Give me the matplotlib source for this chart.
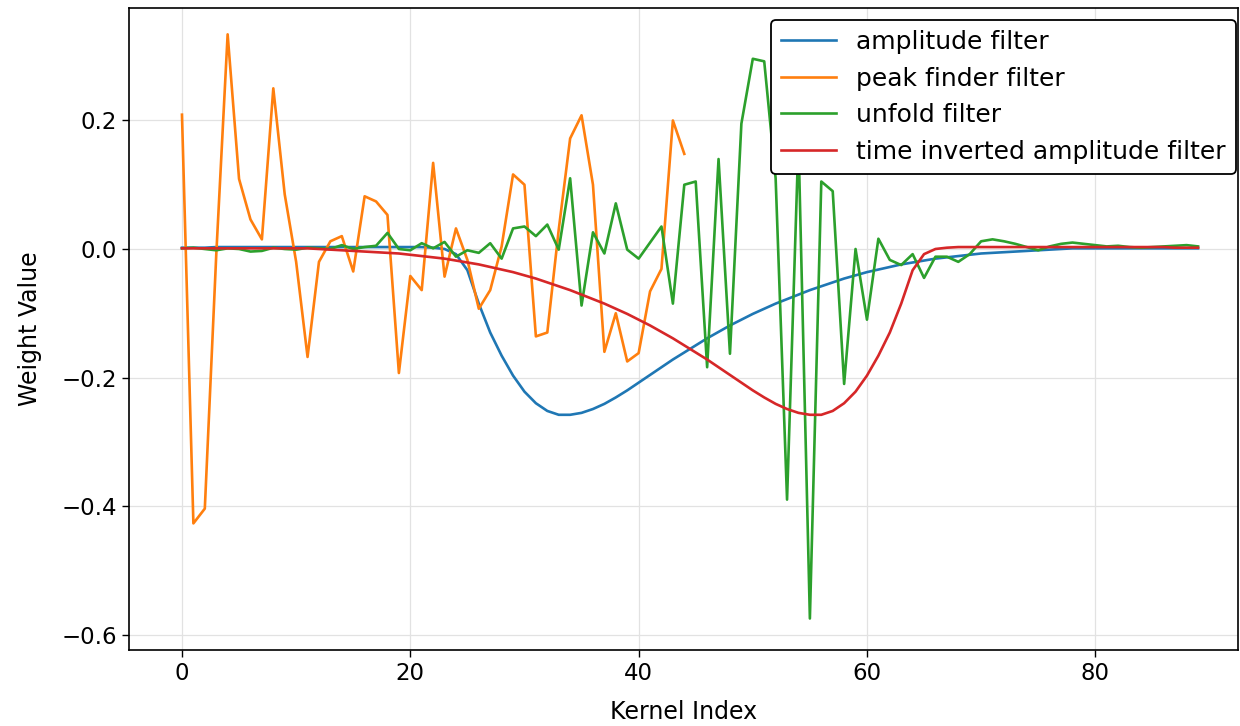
import numpy as np
import matplotlib
matplotlib.use('Agg')
import matplotlib.pyplot as plt

# values
kernel_index = np.arange(90)

amplitude = [0.002, 0.002, 0.002, 0.003, 0.003, 0.003, 0.003, 0.003, 0.003, 0.003,
             0.003, 0.003, 0.003, 0.003, 0.003, 0.003, 0.003, 0.003, 0.003, 0.003,
             0.003, 0.003, 0.002, 0.0, -0.008, -0.033, -0.085, -0.13, -0.166, -0.197,
             -0.222, -0.24, -0.252, -0.258, -0.258, -0.255, -0.249, -0.241, -0.231, -0.22,
             -0.208, -0.196, -0.184, -0.172, -0.161, -0.15, -0.139, -0.129, -0.119, -0.11,
             -0.101, -0.093, -0.085, -0.078, -0.071, -0.064, -0.058, -0.052, -0.046, -0.041,
             -0.036, -0.032, -0.028, -0.024, -0.021, -0.018, -0.015, -0.013, -0.011, -0.009,
             -0.007, -0.006, -0.005, -0.004, -0.003, -0.002, -0.001, 0.0, 0.001, 0.001,
             0.001, 0.001, 0.001, 0.001, 0.001, 0.001, 0.001, 0.001, 0.001, 0.001]

peak_finder = [0.209, -0.427, -0.404, -0.01, 0.334, 0.109, 0.046, 0.015, 0.25, 0.085,
               -0.02, -0.168, -0.02, 0.012, 0.02, -0.035, 0.082, 0.074, 0.053, -0.193,
               -0.042, -0.064, 0.134, -0.043, 0.032, -0.017, -0.093, -0.064, 0.004, 0.116,
               0.1, -0.136, -0.13, 0.03, 0.172, 0.208, 0.1, -0.16, -0.1, -0.175,
               -0.162, -0.066, -0.031, 0.2, 0.148]

unfold = [0.001, 0.002, 0.0, -0.002, 0.001, 0.0, -0.004, -0.003, 0.002, 0.0,
          -0.001, 0.002, 0.001, 0.0, 0.006, 0.0, 0.003, 0.005, 0.025, 0.0,
          -0.002, 0.009, 0.001, 0.011, -0.012, -0.002, -0.006, 0.009, -0.015, 0.032,
          0.035, 0.02, 0.038, -0.001, 0.11, -0.088, 0.026, -0.007, 0.071, -0.001,
          -0.015, 0.01, 0.035, -0.085, 0.1, 0.105, -0.184, 0.14, -0.163, 0.195,
          0.296, 0.292, 0.11, -0.39, 0.17, -0.575, 0.105, 0.09, -0.21, 0.0,
          -0.11, 0.016, -0.017, -0.025, -0.008, -0.045, -0.012, -0.012, -0.02, -0.008,
          0.012, 0.015, 0.012, 0.008, 0.003, -0.002, 0.004, 0.008, 0.01, 0.008,
          0.006, 0.004, 0.005, 0.003, 0.002, 0.003, 0.004, 0.005, 0.006, 0.004]

# time inverted amplitude filter
inverted = amplitude[::-1]

#%%
fig = plt.figure(figsize=(12.4, 7.26), dpi=100)
ax = fig.add_axes([129/1240, 76/726, 1109/1240, 642/726])

ax.plot(kernel_index, amplitude, lw=1.9, label='amplitude filter')
ax.plot(kernel_index[:len(peak_finder)], peak_finder, lw=1.9, label='peak finder filter')
ax.plot(kernel_index, unfold, lw=1.9, label='unfold filter')
ax.plot(kernel_index, inverted, lw=1.9, label='time inverted amplitude filter')

ax.set_xlim(-4.64, 92.5)
ax.set_ylim(-0.624, 0.375)
ax.set_xticks([0, 20, 40, 60, 80])
ax.set_yticks([-0.6, -0.4, -0.2, 0.0, 0.2])
ax.grid(True, color='#e2e2e2', lw=0.9)
ax.set_axisbelow(True)
ax.tick_params(labelsize=16.5, length=5, width=1)
for s in ax.spines.values():
    s.set_linewidth(1.2)

ax.set_xlabel('Kernel Index', fontsize=17, labelpad=11)
ax.set_ylabel('Weight Value', fontsize=17, labelpad=14)

leg = ax.legend(loc='upper right', bbox_to_anchor=(0.998, 0.981), borderaxespad=0,
                fontsize=18, framealpha=1, edgecolor='black', handlelength=2.2)
leg.get_frame().set_linewidth(1.3)

plt.savefig('out.png')
